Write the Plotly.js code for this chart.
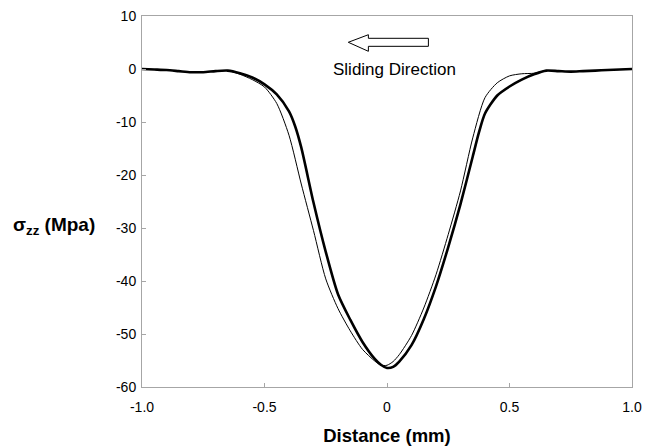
<!DOCTYPE html>
<html>
<head>
<meta charset="utf-8">
<script src="https://cdn.plot.ly/plotly-3.0.1.min.js"></script>
<style>html,body{margin:0;padding:0;background:#fff;}#chart{width:656px;height:446px;}</style>
</head>
<body>
<div id="chart"></div>
<script>
// Distance (mm)
const xThick = [-1.0,-0.95,-0.9,-0.85,-0.8,-0.75,-0.7,-0.65,-0.6,-0.55,-0.5,-0.45,-0.4,-0.375,-0.35,-0.3,-0.25,-0.2,-0.15,-0.1,-0.05,-0.025,0.0,0.025,0.05,0.1,0.15,0.2,0.25,0.3,0.35,0.375,0.4,0.45,0.5,0.55,0.6,0.65,0.7,0.75,0.8,0.85,0.9,0.95,1.0];
const yThick = [0,-0.1,-0.2,-0.4,-0.6,-0.6,-0.4,-0.3,-0.8,-1.6,-2.9,-4.8,-8.0,-10.8,-14.8,-25.2,-34.5,-42.5,-47.3,-51.5,-54.7,-55.8,-56.4,-56.2,-55.2,-52.1,-47.2,-41.0,-33.6,-25.5,-16.5,-12.0,-8.4,-5.0,-3.3,-2.0,-1.0,-0.3,-0.4,-0.5,-0.4,-0.3,-0.2,-0.1,0];
const xThin = [-1.0,-0.95,-0.9,-0.85,-0.8,-0.75,-0.7,-0.65,-0.6,-0.55,-0.5,-0.45,-0.4,-0.35,-0.3,-0.25,-0.2,-0.15,-0.1,-0.05,-0.025,0.0,0.025,0.05,0.1,0.15,0.2,0.25,0.3,0.35,0.4,0.45,0.5,0.55,0.6,0.65,0.7,0.75,0.8,0.85,0.9,0.95,1.0];
const yThin = [0,-0.1,-0.2,-0.4,-0.6,-0.6,-0.4,-0.3,-1.0,-2.0,-3.4,-6.5,-12.5,-21.7,-30.5,-39.6,-45.2,-49.4,-52.9,-55.1,-55.9,-55.9,-55.2,-53.9,-50.3,-45.1,-38.8,-31.2,-23.0,-13.0,-5.4,-2.6,-1.3,-0.9,-0.8,-0.3,-0.4,-0.5,-0.4,-0.3,-0.2,-0.1,0];
const xTickVals = [-1.0,-0.5,0,0.5,1.0];
const xTickText = ['-1.0','-0.5','0','0.5','1.0'];
const yTickVals = [10,0,-10,-20,-30,-40,-50,-60];
const yTickText = ['10','0','-10','-20','-30','-40','-50','-60'];

const font = 'Liberation Sans, Arial, sans-serif';
const traces = [
  {x: xThin, y: yThin, mode: 'lines', line: {color: '#000', width: 1, shape: 'spline', smoothing: 0.7}, hoverinfo: 'none'},
  {x: xThick, y: yThick, mode: 'lines', line: {color: '#000', width: 2.6, shape: 'spline', smoothing: 0.7}, hoverinfo: 'none'}
];
const axisCommon = {
  showline: true, linecolor: '#a6a6a6', linewidth: 1, mirror: true,
  showgrid: false, zeroline: false, ticks: 'inside', ticklen: 4, tickcolor: '#a6a6a6',
  tickfont: {family: font, size: 14, color: '#000'}
};
const layout = {
  width: 656, height: 446,
  margin: {l: 142, r: 24, t: 16, b: 59},
  paper_bgcolor: '#fff', plot_bgcolor: '#fff',
  showlegend: false,
  xaxis: Object.assign({}, axisCommon, {
    range: [-1, 1], tickvals: xTickVals, ticktext: xTickText, ticklabelstandoff: 7,
    title: {text: '<b>Distance (mm)</b>', font: {family: font, size: 18.5, color: '#000'}, standoff: 16}
  }),
  yaxis: Object.assign({}, axisCommon, {
    range: [-60, 10], tickvals: yTickVals, ticktext: yTickText, ticklabelstandoff: 2
  }),
  shapes: [{
    type: 'path', xref: 'x', yref: 'y',
    path: 'M 0.169,5.79 L -0.076,5.79 L -0.076,6.47 L -0.158,5.04 L -0.076,3.34 L -0.076,4.28 L 0.169,4.28 Z',
    line: {color: '#000', width: 1}, fillcolor: '#fff'
  }],
  annotations: [
    {text: 'Sliding Direction', xref: 'x', yref: 'y', x: 0.03, y: 0.0, showarrow: false,
     font: {family: font, size: 17, color: '#000'}, xanchor: 'center', yanchor: 'middle'},
    {text: '<b>σ<sub>zz</sub> (Mpa)</b>', xref: 'paper', yref: 'paper', x: -0.18, y: 0.434, showarrow: false,
     font: {family: font, size: 19, color: '#000'}, xanchor: 'center', yanchor: 'middle'}
  ]
};
Plotly.newPlot('chart', traces, layout, {staticPlot: true, displayModeBar: false});
</script>
</body>
</html>
